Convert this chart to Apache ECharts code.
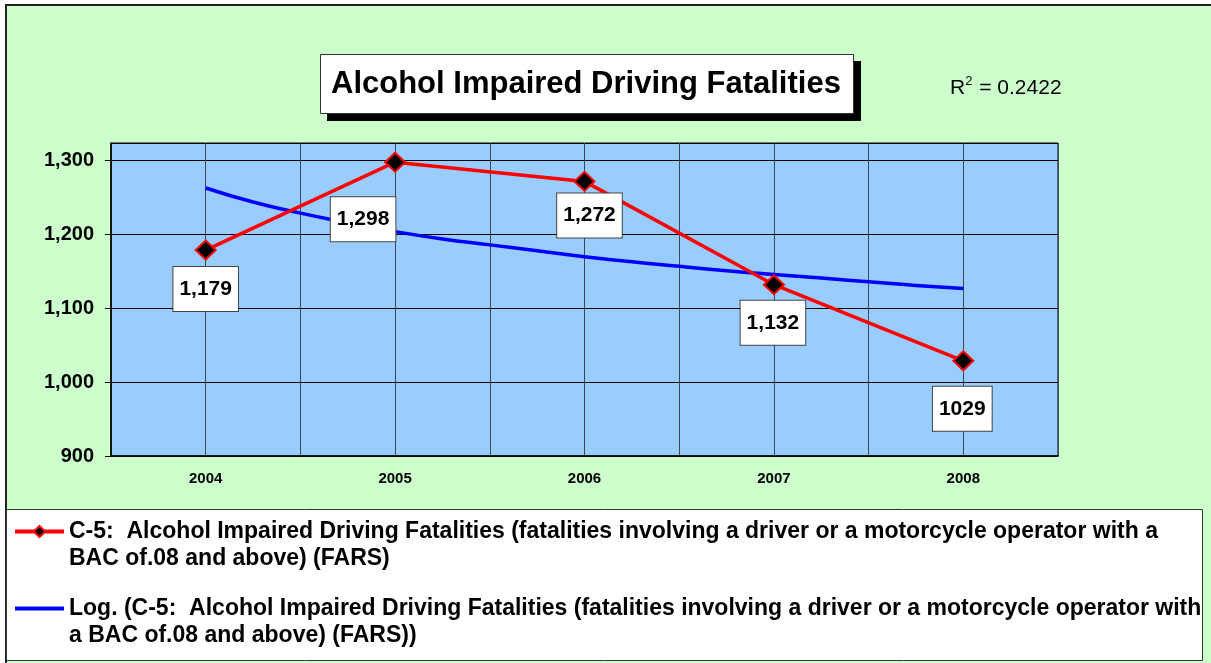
<!DOCTYPE html>
<html>
<head>
<meta charset="utf-8">
<script src="https://cdn.jsdelivr.net/npm/echarts@6/dist/echarts.min.js"></script>
<style>
  html, body { margin: 0; padding: 0; background: #fff; }
  #chart { width: 1211px; height: 663px; }
</style>
</head>
<body>
<div id="chart"></div>
<script>
// years and C-5 fatalities
var years = [2004, 2005, 2006, 2007, 2008];
var fatalities = [1179, 1298, 1272, 1132, 1029];
var valueLabels = ['1,179', '1,298', '1,272', '1,132', '1029'];

// log trend line, every quarter year
var trendYears = [2004, 2004.25, 2004.5, 2004.75, 2005, 2005.25, 2005.5, 2005.75, 2006,
                  2006.25, 2006.5, 2006.75, 2007, 2007.25, 2007.5, 2007.75, 2008];
var trendValues = [1263, 1244, 1229, 1216, 1204, 1194, 1186, 1178, 1170,
                   1163, 1157, 1151, 1146, 1141, 1136, 1131, 1127];

var yTicks = [900, 1000, 1100, 1200, 1300];

var seriesName = 'C-5:  Alcohol Impaired Driving Fatalities (fatalities involving a driver or a motorcycle operator with a BAC of.08 and above) (FARS)';
var trendName = 'Log. (' + seriesName + ')';

var FONT = '"Liberation Sans", Arial, sans-serif';

var chart = echarts.init(document.getElementById('chart'));

// where each value box sits relative to its point
var labelOffsets = [[0, 39], [-32, 57], [5, 34], [-1, 38], [-1, 48]];

var redData = [];
for (var i = 0; i < years.length; i++) {
  redData.push({
    value: [years[i], fatalities[i]],
    label: { offset: labelOffsets[i], formatter: valueLabels[i] }
  });
}
var blueData = [];
for (var j = 0; j < trendYears.length; j++) {
  blueData.push([trendYears[j], trendValues[j]]);
}

var option = {
  animation: false,
  textStyle: { fontFamily: FONT },
  graphic: [
    {
      type: 'rect', z: -10, silent: true,
      shape: { x: 6, y: 5, width: 1220, height: 670 },
      style: { fill: '#ccffcc', stroke: '#222', lineWidth: 2 }
    },
    {
      type: 'rect', z: -5, silent: true,
      shape: { x: 6.5, y: 509.5, width: 1196, height: 151 },
      style: { fill: '#ffffff', stroke: '#333', lineWidth: 1 }
    },
    // title box with its drop shadow
    {
      type: 'rect', z: -5, silent: true,
      shape: { x: 327, y: 61, width: 534, height: 60 },
      style: { fill: '#000' }
    },
    {
      type: 'rect', z: -4, silent: true,
      shape: { x: 320.5, y: 54.5, width: 533, height: 59 },
      style: { fill: '#ffffff', stroke: '#333', lineWidth: 1 }
    }
  ],
  title: [
    {
      text: 'Alcohol Impaired Driving Fatalities',
      left: 331, top: 66,
      padding: 0,
      textStyle: { fontFamily: FONT, fontSize: 31, fontWeight: 'bold', color: '#000', lineHeight: 36 }
    },
    {
      text: '{r|R}{s|2}{r| = 0.2422}',
      left: 950, top: 75,
      padding: 0,
      textStyle: {
        fontFamily: FONT,
        fontWeight: 'normal',
        rich: {
          r: { fontFamily: FONT, fontSize: 21, fontWeight: 'normal', color: '#000', verticalAlign: 'bottom', lineHeight: 24 },
          s: { fontFamily: FONT, fontSize: 13, fontWeight: 'normal', color: '#000', verticalAlign: 'top', lineHeight: 24, padding: [0, 1, 9, 0] }
        }
      }
    }
  ],
  legend: {
    orient: 'vertical',
    left: 13,
    top: 495,
    padding: 0,
    itemGap: 2,
    itemWidth: 49,
    itemHeight: 14,
    selectedMode: false,
    lineStyle: { width: 4 },
    data: [seriesName, trendName],
    formatter: function (name) {
      var t = name.indexOf('Log.') === 0
        ? name.replace(' with a BAC', ' with\na BAC')
        : name.replace(' with a BAC', ' with a\nBAC');
      var lines = t.split('\n');
      return '{e| }\n{t|' + lines[0] + '}\n{t|' + lines[1] + '}';
    },
    textStyle: {
      fontFamily: FONT,
      rich: {
        e: { fontSize: 19, lineHeight: 27 },
        t: { fontFamily: FONT, fontSize: 23, fontWeight: 'bold', color: '#000', lineHeight: 27 }
      }
    }
  },
  grid: {
    left: 111, right: 153, top: 143, bottom: 207,
    show: true,
    backgroundColor: '#99ccff',
    borderColor: '#000',
    borderWidth: 1
  },
  xAxis: {
    type: 'value',
    min: 2003.5,
    max: 2008.5,
    interval: 0.5,
    axisLine: { show: true, lineStyle: { color: '#000', width: 1.5 } },
    axisTick: { show: false },
    splitLine: { show: true, lineStyle: { color: '#3c4654', width: 1 } },
    axisLabel: {
      margin: 15,
      fontFamily: FONT, fontSize: 15, fontWeight: 'bold', color: '#000',
      formatter: function (v) { return years.indexOf(v) >= 0 ? String(v) : ''; }
    }
  },
  yAxis: {
    type: 'value',
    min: yTicks[0],
    max: 1324,
    interval: 100,
    axisLine: { show: true, lineStyle: { color: '#000', width: 1.5 } },
    axisTick: { show: true, length: 6, lineStyle: { color: '#000' } },
    splitLine: { show: true, lineStyle: { color: '#000', width: 1 } },
    axisLabel: {
      margin: 17,
      showMaxLabel: false,
      fontFamily: FONT, fontSize: 20, fontWeight: 'bold', color: '#000',
      formatter: function (v) {
        return yTicks.indexOf(v) >= 0 ? v.toLocaleString('en-US') : '';
      }
    }
  },
  series: [
    {
      name: trendName,
      type: 'line',
      data: blueData,
      smooth: true,
      symbol: 'none',
      z: 2,
      color: '#0000ff',
      itemStyle: { opacity: 0 },
      lineStyle: { color: '#0000ff', width: 3.5, opacity: 1 }
    },
    {
      name: seriesName,
      type: 'line',
      data: redData,
      symbol: 'diamond',
      symbolSize: [20, 19],
      z: 3,
      color: '#ff0000',
      lineStyle: { color: '#ff0000', width: 3.5 },
      itemStyle: { color: '#000', borderColor: '#ff0000', borderWidth: 2 },
      label: {
        show: true,
        position: 'inside',
        fontFamily: FONT,
        fontSize: 21,
        fontWeight: 'bold',
        color: '#000',
        backgroundColor: '#fff',
        borderColor: '#444',
        borderWidth: 1,
        padding: [12, 6, 11, 6]
      }
    }
  ]
};

chart.setOption(option);
</script>
</body>
</html>
